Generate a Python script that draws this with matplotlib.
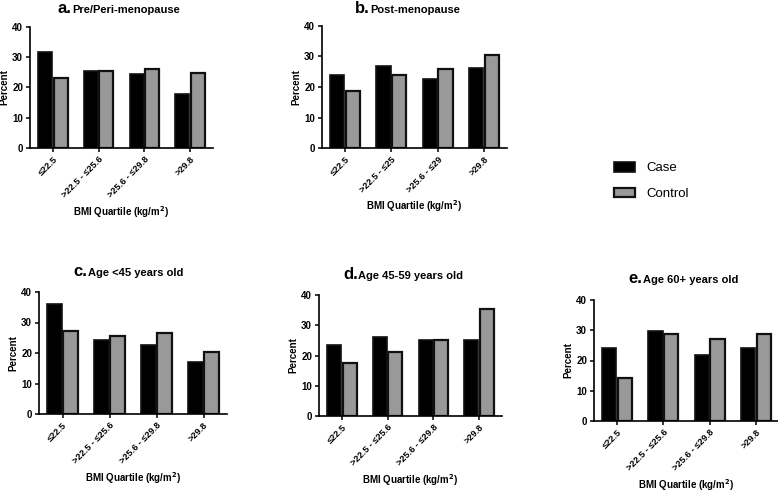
import matplotlib
matplotlib.use("Agg")
import matplotlib.pyplot as plt
import numpy as np
from matplotlib.patches import Patch

plt.rcParams['font.family'] = ['Liberation Sans', 'DejaVu Sans']

categories_std = ["≤22.5", ">22.5 - ≤25.6", ">25.6 - ≤29.8", ">29.8"]
categories_b = ["≤22.5", ">22.5 - ≤25", ">25.6 - ≤29", ">29.8"]

case_a = [31.8, 25.5, 24.5, 17.8]
control_a = [23.2, 25.4, 26.2, 24.7]
case_b = [24.0, 26.8, 22.6, 26.3]
control_b = [18.8, 24.0, 26.0, 30.6]
case_c = [36.2, 24.1, 22.7, 17.0]
control_c = [27.2, 25.5, 26.4, 20.4]
case_d = [23.4, 26.1, 25.0, 25.0]
control_d = [17.6, 21.3, 25.0, 35.4]
case_e = [24.0, 29.6, 21.9, 24.0]
control_e = [14.3, 28.8, 27.1, 28.8]

letters = ["a.", "b.", "c.", "d.", "e."]
titles = ["Pre/Peri-menopause", "Post-menopause", "Age <45 years old",
          "Age 45-59 years old", "Age 60+ years old"]
series_labels = ["Case", "Control"]

W, H = 778, 492
fig = plt.figure(figsize=(W / 100, H / 100), dpi=100)

def rect(left, right, top, bottom):
    return [left / W, 1 - bottom / H, (right - left) / W, (bottom - top) / H]

panels = [
    (rect(30, 213, 27, 148), categories_std, case_a, control_a, (57, 13)),
    (rect(322, 507, 26, 148), categories_b, case_b, control_b, (355, 13)),
    (rect(39, 227, 292, 414), categories_std, case_c, control_c, (73, 276)),
    (rect(319, 502, 295, 416), categories_std, case_d, control_d, (343, 279)),
    (rect(594, 779, 300, 421), categories_std, case_e, control_e, (628, 283)),
]

case_color = "#000000"
ctrl_color = "#999999"
bw = 0.31
for i, (r, cats, cs, ct, tpos) in enumerate(panels):
    ax = fig.add_axes(r)
    x = np.arange(len(cats))
    ax.bar(x - 0.17, cs, bw, color=case_color, edgecolor="#111111", linewidth=1.2)
    ax.bar(x + 0.17, ct, bw, color=ctrl_color, edgecolor="#111111", linewidth=1.6)
    ax.set_xlim(-0.5, 3.5)
    ax.set_ylim(0, 40)
    ax.set_yticks([0, 10, 20, 30, 40])
    ax.set_xticks(x)
    ax.set_xticklabels(cats, rotation=45, ha="right", rotation_mode="anchor",
                       fontsize=6.6, fontweight="bold")
    for lab in ax.get_yticklabels():
        lab.set_fontsize(7)
        lab.set_fontweight("bold")
    ax.tick_params(axis="both", direction="out", length=3, width=1.1, pad=2)
    for s in ["top", "right"]:
        ax.spines[s].set_visible(False)
    for s in ["left", "bottom"]:
        ax.spines[s].set_linewidth(1.2)
    ax.set_ylabel("Percent", fontsize=7, fontweight="bold", labelpad=2)
    ax.set_xlabel("BMI Quartile (kg/m$^\\mathbf{2}$)", fontsize=7, fontweight="bold", labelpad=3)
    tx, ty = tpos
    fig.text(tx / W, 1 - ty / H, letters[i], fontsize=12, fontweight="bold",
             ha="left", va="baseline")
    fig.text((tx + 15) / W, 1 - ty / H, titles[i], fontsize=8, fontweight="bold",
             ha="left", va="baseline")

handles = [Patch(facecolor=case_color, edgecolor="#111111", linewidth=1.2),
           Patch(facecolor=ctrl_color, edgecolor="#111111", linewidth=1.6)]
fig.legend(handles, series_labels, loc="upper left", bbox_to_anchor=(602 / W, 1 - 150 / H),
           frameon=False, fontsize=9.5, handlelength=1.6, handleheight=0.75,
           labelspacing=1.0, handletextpad=0.9)

fig.savefig("out.png", dpi=100)
